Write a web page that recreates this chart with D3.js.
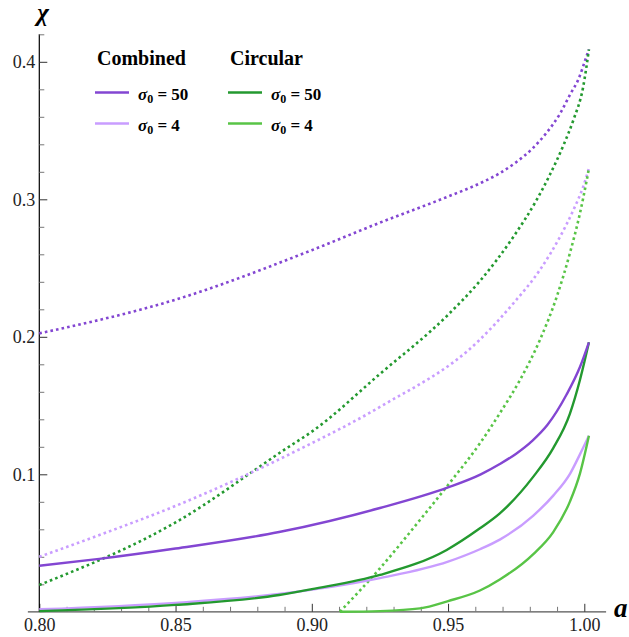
<!DOCTYPE html>
<html>
<head>
<meta charset="utf-8">
<script src="https://cdn.jsdelivr.net/npm/d3@7"></script>
<style>
  body { margin: 0; background: #fff; }
  svg { display: block; }
  svg text { font-family: "Liberation Serif", "DejaVu Serif", serif; }
</style>
</head>
<body>
<svg id="chart" width="629" height="637"></svg>
<script>
// values, [a, chi]
const combined50Solid = [[0.80,0.0335],[0.822,0.0385],[0.85,0.046],[0.888,0.058],[0.925,0.0755],[0.95,0.0905],[0.962,0.100],[0.969,0.1075],[0.975,0.115],[0.981,0.1245],[0.9865,0.136],[0.9935,0.158],[0.9984,0.178],[1.0017,0.196]];
const circular50Solid = [[0.80,0.0005],[0.85,0.005],[0.888,0.0122],[0.90,0.0165],[0.925,0.0268],[0.9495,0.045],[0.9617,0.0607],[0.969,0.0716],[0.9813,0.0983],[0.9886,0.119],[0.9947,0.144],[0.9984,0.1686],[1.0017,0.196]];
const combined4Solid = [[0.80,0.0018],[0.85,0.0065],[0.888,0.0129],[0.925,0.0245],[0.95,0.0365],[0.9617,0.0455],[0.969,0.0525],[0.9813,0.070],[0.9886,0.0845],[0.9948,0.1005],[0.9984,0.1145],[1.0017,0.128]];
const circular4Solid = [[0.9103,0],[0.925,0.0005],[0.9397,0.0025],[0.95,0.0078],[0.9617,0.0155],[0.969,0.0235],[0.9813,0.042],[0.9886,0.058],[0.9948,0.0805],[0.9984,0.1005],[1.0017,0.128]];

const combined50Dotted = [[0.80,0.2025],[0.85,0.227],[0.90,0.263],[0.925,0.283],[0.95,0.302],[0.9617,0.3116],[0.969,0.319],[0.975,0.327],[0.981,0.337],[0.986,0.348],[0.991,0.362],[0.995,0.377],[0.998,0.388],[1.0003,0.401],[1.0017,0.409]];
const circular50Dotted = [[0.80,0.0195],[0.85,0.065],[0.8908,0.119],[0.90,0.131],[0.925,0.173],[0.95,0.216],[0.9617,0.2406],[0.974,0.2728],[0.9825,0.2995],[0.9874,0.318],[0.9925,0.340],[0.996,0.3577],[0.9996,0.3819],[1.0017,0.409]];
const combined4Dotted = [[0.80,0.040],[0.8223,0.056],[0.85,0.077],[0.8957,0.1184],[0.925,0.149],[0.9617,0.198],[0.974,0.2244],[0.9837,0.2486],[0.9911,0.2728],[0.996,0.2922],[0.9996,0.3092],[1.0017,0.3225]];
const circular4Dotted = [[0.9103,0],[0.925,0.0316],[0.9397,0.0668],[0.9507,0.094],[0.9617,0.1225],[0.969,0.1444],[0.9764,0.1686],[0.9837,0.1977],[0.9899,0.2292],[0.9947,0.2607],[0.9984,0.2898],[1.0009,0.314],[1.0017,0.3225]];

const xMajor = [0.80, 0.85, 0.90, 0.95, 1.00];
const yMajor = [0.1, 0.2, 0.3, 0.4];
const legendGroups = ["Combined", "Circular"];
const legendLabels = ["50", "4"];

const purple = "#8346d2", lightPurple = "#c99dff", green = "#23992f", lightGreen = "#58c446";

const series = [
  {data: combined50Dotted, color: purple, dotted: true},
  {data: circular50Dotted, color: green, dotted: true},
  {data: combined4Dotted, color: lightPurple, dotted: true},
  {data: circular4Dotted, color: lightGreen, dotted: true},
  {data: combined4Solid, color: lightPurple},
  {data: circular50Solid, color: green},
  {data: combined50Solid, color: purple},
  {data: circular4Solid, color: lightGreen}
];

const svg = d3.select("#chart");
const x = d3.scaleLinear().domain([0.8, 1.0]).range([39.3, 584.3]);
const y = d3.scaleLinear().domain([0, 0.4]).range([611.8, 61.8]);

const xMinor = d3.range(80, 101).map(d => d / 100).filter(d => !xMajor.some(m => Math.abs(m - d) < 1e-9));
const yMinor = d3.range(1, 22).map(d => d * 0.02).filter(d => !yMajor.some(m => Math.abs(m - d) < 1e-9));

const serif = "'Liberation Serif', 'DejaVu Serif', serif";

// x axis
const gx = svg.append("g").attr("transform", `translate(0,${y(0)})`);
gx.append("line").attr("x1", x(0.7958)).attr("x2", x(1.008)).attr("stroke", "#555").attr("stroke-width", 1.2);
gx.append("g").call(d3.axisBottom(x).tickValues(xMinor).tickSizeInner(-5).tickSizeOuter(0).tickFormat(""))
  .call(g => g.select(".domain").remove())
  .call(g => g.selectAll(".tick line").attr("stroke", "#777"));
gx.append("g").call(d3.axisBottom(x).tickValues(xMajor).tickSizeInner(-8).tickSizeOuter(0).tickPadding(6).tickFormat(d3.format(".2f")))
  .attr("font-family", null).attr("font-size", null)
  .call(g => g.select(".domain").remove())
  .call(g => g.selectAll(".tick line").attr("stroke", "#333"))
  .call(g => g.selectAll(".tick text").style("font-family", serif).style("font-size", "18px").attr("fill", "#222"));

// y axis
const gy = svg.append("g").attr("transform", `translate(${x(0.8)},0)`);
gy.append("line").attr("y1", y(0.0)).attr("y2", y(0.42)).attr("stroke", "#000").attr("stroke-width", 1.2);
gy.append("g").call(d3.axisLeft(y).tickValues(yMinor).tickSizeInner(-5).tickSizeOuter(0).tickFormat(""))
  .call(g => g.select(".domain").remove())
  .call(g => g.selectAll(".tick line").attr("stroke", "#777"));
gy.append("g").call(d3.axisLeft(y).tickValues(yMajor).tickSizeInner(-8).tickSizeOuter(0).tickPadding(4).tickFormat(d => d.toFixed(1)))
  .attr("font-family", null).attr("font-size", null)
  .call(g => g.select(".domain").remove())
  .call(g => g.selectAll(".tick line").attr("stroke", "#333"))
  .call(g => g.selectAll(".tick text").style("font-family", serif).style("font-size", "18px").attr("fill", "#222"));

// axis labels
svg.append("text").attr("x", 43).attr("y", 21).attr("text-anchor", "middle")
  .style("font-size", "25px").style("font-style", "italic").style("font-weight", "bold").text("χ");
svg.append("text").attr("x", 614).attr("y", 617)
  .style("font-size", "27px").style("font-style", "italic").style("font-weight", "bold").text("a");

// curves
const line = d3.line().x(d => x(d[0])).y(d => y(d[1])).curve(d3.curveMonotoneX);
svg.append("g").selectAll("path").data(series).join("path")
  .attr("d", d => line(d.data))
  .attr("fill", "none")
  .attr("stroke", d => d.color)
  .attr("stroke-width", d => d.dotted ? 2.6 : 2.4)
  .attr("stroke-dasharray", d => d.dotted ? "2.6 3.1" : null);

// legend
const legendColors = [[purple, lightPurple], [green, lightGreen]];
const lg = svg.append("g");
legendGroups.forEach((name, i) => {
  const x0 = 95 + i * 133;
  lg.append("text").attr("x", x0 + 2).attr("y", 65).style("font-size", "20px").style("font-weight", "bold").text(name);
  legendLabels.forEach((lab, j) => {
    const ly = 92.5 + j * 31;
    lg.append("line").attr("x1", x0).attr("x2", x0 + 34).attr("y1", ly).attr("y2", ly)
      .attr("stroke", legendColors[i][j]).attr("stroke-width", 2.6);
    const t = lg.append("text").attr("x", x0 + 43).attr("y", ly + 7).style("font-size", "17px").style("font-weight", "bold");
    t.append("tspan").style("font-style", "italic").text("σ");
    t.append("tspan").style("font-size", "12px").attr("dy", 3).text("0");
    t.append("tspan").attr("dy", -3).text(" = " + lab);
  });
});
</script>
</body>
</html>
